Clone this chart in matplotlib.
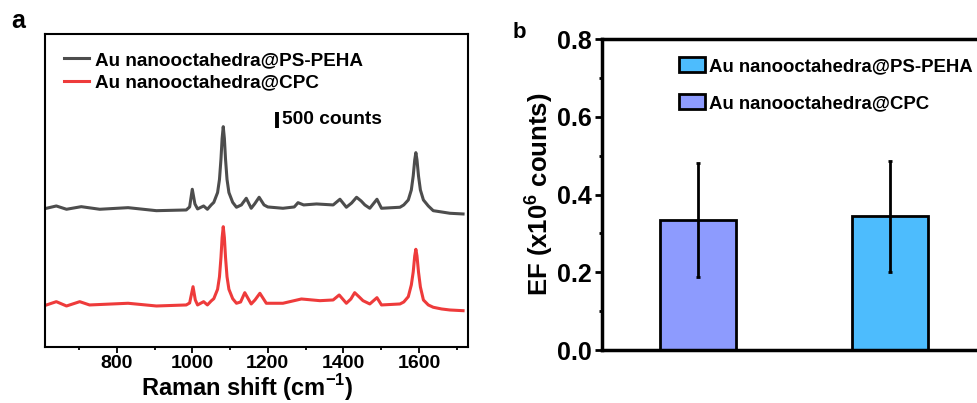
import matplotlib
matplotlib.use("Agg")
import matplotlib.pyplot as plt
from matplotlib.patches import Patch

plt.rcParams['font.family'] = ['Liberation Sans', 'DejaVu Sans']
plt.rcParams['font.weight'] = 'bold'
plt.rcParams['mathtext.fontset'] = 'custom'
plt.rcParams['mathtext.rm'] = 'Liberation Sans:bold'
plt.rcParams['mathtext.bf'] = 'Liberation Sans:bold'

# ---- panel a: Raman spectra (counts) ----
peha_shift = [614, 640, 667, 706, 755, 830, 905, 984, 993, 1000, 1007, 1014, 1030, 1040,
              1050, 1057, 1067, 1072, 1076, 1079, 1082, 1085, 1088, 1092, 1097, 1107,
              1117, 1130, 1143, 1156, 1165, 1177, 1190, 1200, 1240, 1270, 1280, 1295,
              1329, 1373, 1391, 1408, 1422, 1435, 1447, 1457, 1470, 1489, 1501, 1550,
              1560, 1572, 1580, 1585, 1589, 1592, 1595, 1599, 1604, 1612, 1625, 1638,
              1660, 1682, 1717]
peha_counts = [1334, 1406, 1303, 1384, 1303, 1353, 1259, 1281, 1375, 1928, 1469, 1313, 1406, 1303,
               1438, 1519, 1825, 2234, 2875, 3516, 3884, 3516, 2875, 2234, 1825, 1519,
               1366, 1438, 1647, 1334, 1469, 1678, 1438, 1375, 1334, 1375, 1509, 1438,
               1469, 1438, 1616, 1366, 1500, 1678, 1563, 1438, 1334, 1616, 1334, 1366,
               1438, 1594, 1906, 2344, 2844, 3072, 2844, 2344, 1906, 1594, 1406, 1259,
               1219, 1178, 1156]

cpc_shift = [614, 640, 667, 702, 728, 830, 905, 984, 993, 1002, 1008, 1014, 1030, 1040,
             1050, 1057, 1067, 1072, 1076, 1079, 1082, 1085, 1088, 1092, 1097, 1107,
             1117, 1128, 1139, 1156, 1166, 1179, 1196, 1240, 1289, 1338, 1373, 1389,
             1408, 1420, 1430, 1442, 1452, 1470, 1489, 1501, 1550, 1560, 1572, 1580,
             1585, 1589, 1592, 1595, 1599, 1604, 1612, 1625, 1638, 1660, 1682, 1717]
cpc_counts = [1313, 1416, 1281, 1416, 1313, 1366, 1281, 1313, 1375, 1884, 1469, 1313, 1416, 1313,
              1438, 1509, 1803, 2194, 2806, 3416, 3759, 3416, 2806, 2194, 1803, 1509,
              1366, 1406, 1697, 1344, 1469, 1678, 1366, 1366, 1500, 1447, 1469, 1625,
              1366, 1500, 1697, 1563, 1447, 1344, 1541, 1313, 1344, 1406, 1572, 1938,
              2344, 2844, 3053, 2844, 2344, 1875, 1469, 1313, 1241, 1188, 1156, 1134]

peha_offset = 3000

# ---- panel b: enhancement factor ----
samples = ["Au nanooctahedra@CPC", "Au nanooctahedra@PS-PEHA"]
ef_values = [0.335, 0.344]
ef_errors = [0.147, 0.143]
bar_colors = ["#8D9BFE", "#4DBCFD"]

fig = plt.figure(figsize=(9.78, 4.03), dpi=100)

# panel a
ax1 = fig.add_axes([0.046, 0.139, 0.4325, 0.7767])
ax1.plot(peha_shift, [c + peha_offset for c in peha_counts], color="#4D4D4D", lw=2.2,
         label="Au nanooctahedra@PS-PEHA")
ax1.plot(cpc_shift, cpc_counts, color="#EE3B3B", lw=2.2, label="Au nanooctahedra@CPC")
ax1.set_xlim(610, 1730)
ax1.set_ylim(0, 9780)
ax1.set_xticks([800, 1000, 1200, 1400, 1600])
ax1.set_xticks([700, 900, 1100, 1300, 1500, 1700], minor=True)
ax1.set_yticks([])
ax1.tick_params(axis="x", which="major", length=4, width=1.3, labelsize=14, pad=2)
ax1.tick_params(axis="x", which="minor", length=2.5, width=1.3)
for s in ax1.spines.values():
    s.set_linewidth(1.5)
fig.text(0.253, 0.018, "Raman shift (cm$^{-1}$)", fontsize=17, fontweight="bold",
         ha="center", va="baseline")
ax1.legend(loc="upper left", bbox_to_anchor=(0.028, 0.968), frameon=False, fontsize=13.6,
           handlelength=1.3, handletextpad=0.3, labelspacing=0.3, borderaxespad=0)

# 500 counts scale bar
ax1.plot([1224, 1224], [6844, 7344], color="black", lw=2.8, solid_capstyle="butt")
ax1.text(1238, 7094, "500 counts", fontsize=13.8, fontweight="bold", va="center", ha="left")

fig.text(0.011, 0.948, "a", fontsize=18, fontweight="bold", va="center")

# panel b
ax2 = fig.add_axes([0.6155, 0.1315, 0.3926, 0.7717])
xpos = [1, 2]
ax2.bar(xpos, ef_values, width=0.4, color=bar_colors, edgecolor="black", linewidth=2,
        yerr=ef_errors, capsize=1.5, error_kw=dict(elinewidth=2, capthick=2, ecolor="black"),
        zorder=2)
ax2.set_xlim(0.5, 2.5)
ax2.set_ylim(0, 0.8)
ax2.set_yticks([0.0, 0.2, 0.4, 0.6, 0.8])
ax2.set_yticks([0.1, 0.3, 0.5, 0.7], minor=True)
ax2.set_xticks([])
ax2.tick_params(axis="y", which="major", length=5, width=2, labelsize=18, pad=2)
ax2.tick_params(axis="y", which="minor", length=2.5, width=2)
for lab in ax2.get_yticklabels():
    lab.set_fontweight("bold")
for s in ax2.spines.values():
    s.set_linewidth(2.5)
ax2.set_ylabel("EF (x10$^{6}$ counts)", fontsize=18.5, fontweight="bold", labelpad=2)

handles = [Patch(facecolor=bar_colors[1], edgecolor="black", linewidth=2, label=samples[1]),
           Patch(facecolor=bar_colors[0], edgecolor="black", linewidth=2, label=samples[0])]
ax2.legend(handles=handles, loc="upper left", bbox_to_anchor=(0.18, 0.965), frameon=False,
           fontsize=13.4, handlelength=1.4, handleheight=0.8, handletextpad=0.25,
           labelspacing=1.05, borderaxespad=0)

fig.text(0.524, 0.92, "b", fontsize=16, fontweight="bold", va="center")

fig.savefig("out.png", dpi=100)
